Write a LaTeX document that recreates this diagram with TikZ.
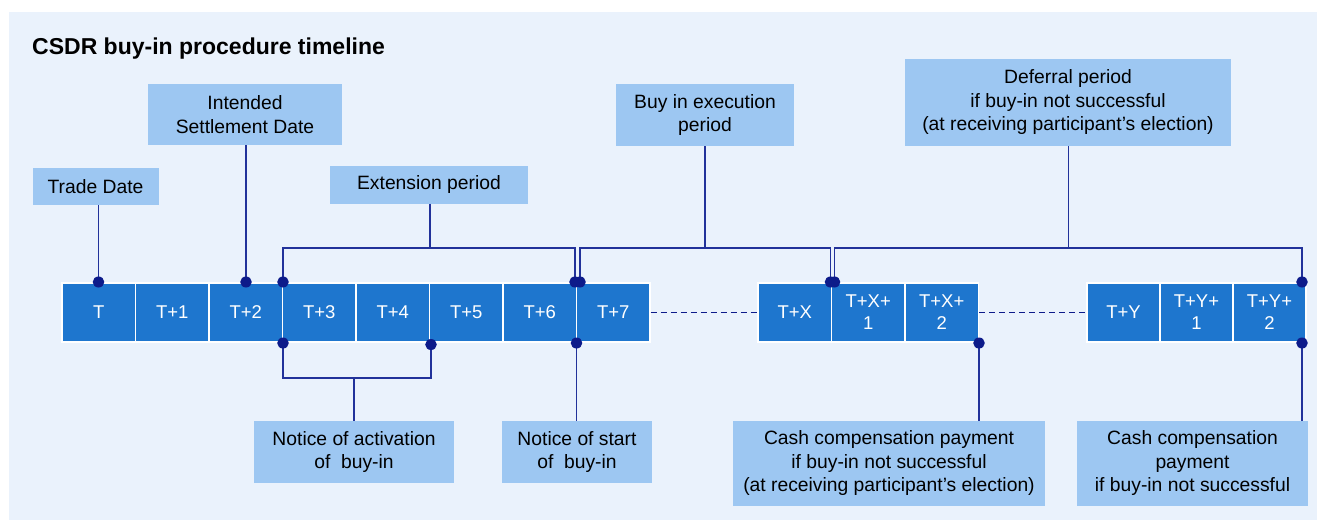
\documentclass[tikz,border=0pt]{standalone}
\usepackage{fontspec}
\setmainfont{Liberation Sans}
\definecolor{bg}{HTML}{EAF2FC}
\definecolor{boxc}{HTML}{9DC7F2}
\definecolor{cellc}{HTML}{1E76CE}
\definecolor{navy}{HTML}{0D1B8A}
\definecolor{linec}{HTML}{22329A}
\begin{document}
\begin{tikzpicture}[x=1pt,y=-1pt,
 lbl/.style={fill=boxc, inner sep=0pt, align=center, font=\fontsize{19.3}{23.5}\selectfont, text=black},
 cell/.style={fill=cellc, draw=white, line width=1.2pt, minimum height=59pt, inner sep=0pt, text=white, align=center, font=\fontsize{18.5}{22}\selectfont},
 conn/.style={draw=linec, line width=1.3pt},
 dashline/.style={draw=navy, line width=1.3pt, dash pattern=on 6pt off 4pt},
 dotc/.style={fill=navy}]
\useasboundingbox (0,0) rectangle (1317,520);
\fill[white] (0,0) rectangle (1317,520);
\fill[bg] (9,12) rectangle (1317,520);

\node[anchor=base west, inner sep=0pt, font=\fontsize{23}{28}\selectfont\bfseries] (title) at (32,54) {CSDR buy-in procedure timeline};

% cells
\node[cell, minimum width=73.5pt] (c0) at (98.75,312.5) {T};
\node[cell, minimum width=73.5pt] (c1) at (172.25,312.5) {T+1};
\node[cell, minimum width=73.5pt] (c2) at (245.75,312.5) {T+2};
\node[cell, minimum width=73.5pt] (c3) at (319.25,312.5) {T+3};
\node[cell, minimum width=73.5pt] (c4) at (392.75,312.5) {T+4};
\node[cell, minimum width=73.5pt] (c5) at (466.25,312.5) {T+5};
\node[cell, minimum width=73.5pt] (c6) at (539.75,312.5) {T+6};
\node[cell, minimum width=73.5pt] (c7) at (613.25,312.5) {T+7};
\node[cell, minimum width=73.5pt] (cX) at (794.75,312.5) {T+X};
\node[cell, minimum width=73.5pt] (cX1) at (868.25,312.5) {T+X+\\1};
\node[cell, minimum width=73.5pt] (cX2) at (941.75,312.5) {T+X+\\2};
\node[cell, minimum width=73pt] (cY) at (1123.5,312.5) {T+Y};
\node[cell, minimum width=73pt] (cY1) at (1196.5,312.5) {T+Y+\\1};
\node[cell, minimum width=73pt] (cY2) at (1269.5,312.5) {T+Y+\\2};

\draw[dashline] (c7.east) -- (cX.west);
\draw[dashline] (cX2.east) -- (cY.west);

% labels
\node[lbl, minimum width=126pt, minimum height=37pt] (trade) at (95.5,186.5) {Trade Date};
\node[lbl, minimum width=194pt, minimum height=61pt] (isd) at (245,114.5) {Intended\\Settlement Date};
\node[lbl, minimum width=198pt, minimum height=38pt] (ext) at (429,184.5) {Extension period};
\node[lbl, minimum width=178pt, minimum height=62pt] (bie) at (705,115) {Buy in execution\\period};
\node[lbl, minimum width=326pt, minimum height=87pt] (def) at (1068,102.5) {Deferral period\\if buy-in not successful\\(at receiving participant’s election)};
\node[lbl, minimum width=200pt, minimum height=62pt] (noa) at (354,452) {Notice of activation\\of \ buy-in};
\node[lbl, minimum width=150pt, minimum height=62pt] (nos) at (577,452) {Notice of start\\of \ buy-in};
\node[lbl, minimum width=312pt, minimum height=85pt] (ccpa) at (889,463.5) {Cash compensation payment\\if buy-in not successful\\(at receiving participant’s election)};
\node[lbl, minimum width=231pt, minimum height=85pt] (ccpb) at (1192.5,463.5) {Cash compensation\\payment\\if buy-in not successful};

% dot coordinates
\coordinate (dT) at (98.5,282);
\coordinate (dT2) at (246,282);
\coordinate (dT3) at (283,282);
\coordinate (dA) at (575,282);
\coordinate (dB) at (580,282);
\coordinate (dC) at (830.5,282);
\coordinate (dD) at (834.5,282);
\coordinate (dE) at (1302,282);
\coordinate (bA) at (283,343);
\coordinate (bB) at (431,344.5);
\coordinate (bC) at (576.5,343);
\coordinate (bD) at (979,343);
\coordinate (bE) at (1302,343);
\coordinate (ej) at (430,248);
\coordinate (bj) at (705,248);
\coordinate (fj) at (1068.5,248);
\coordinate (nj) at (354,378);

% connectors
\draw[conn] (trade.south -| dT) -- (dT);
\draw[conn] (isd.south -| dT2) -- (dT2);
\draw[conn] (ext.south -| ej) -- (ej);
\draw[conn] (dT3) |- (ej) -| (dA);
\draw[conn] (bie.south -| bj) -- (bj);
\draw[conn] (dB) |- (bj) -| (dC);
\draw[conn] (def.south -| fj) -- (fj);
\draw[conn] (dD) |- (fj) -| (dE);
\draw[conn] (bA) |- (nj) -| (bB);
\draw[conn] (nj) -- (noa.north -| nj);
\draw[conn] (bC) -- (nos.north -| bC);
\draw[conn] (bD) -- (ccpa.north -| bD);
\draw[conn] (bE) -- (ccpb.north -| bE);

% dots
\foreach \p in {dT,dT2,dT3,dA,dB,dC,dD,dE,bA,bB,bC,bD,bE}
  \fill[dotc] (\p) ellipse [x radius=5.8pt, y radius=5.5pt];
\end{tikzpicture}
\end{document}
